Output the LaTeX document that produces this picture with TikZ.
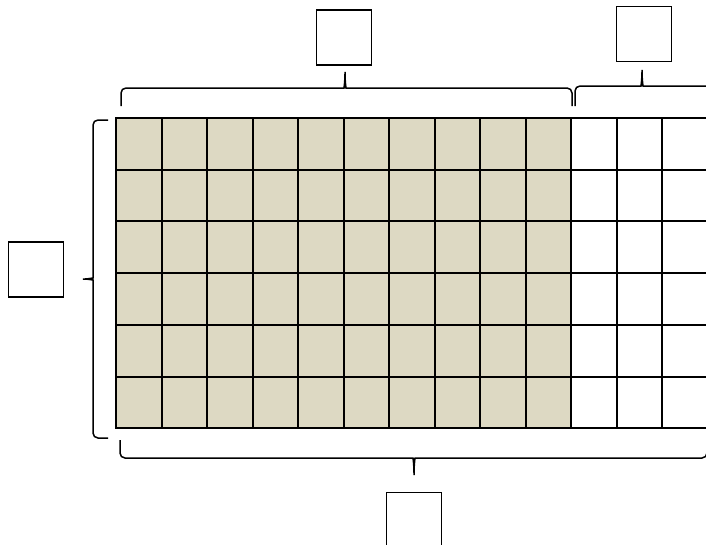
\documentclass[tikz,border=0pt]{standalone}
\usepackage{tikz}
\usetikzlibrary{positioning}
\definecolor{cellfill}{RGB}{221,217,195}

\begin{document}
\begin{tikzpicture}[x=1pt, y=-1pt,
    cell/.style={draw, line width=2pt, minimum width=45.5pt, minimum height=51.7pt, inner sep=0pt, outer sep=0pt, anchor=north west},
    tag/.style={draw, line width=1.6pt, minimum size=55pt, inner sep=0pt},
    bracket/.style={line width=1.5pt, rounded corners=5pt}
]
\useasboundingbox (0,0) rectangle (706,544);
\clip (0,0) rectangle (706,544);

% Grid: shaded part
\foreach \r in {0,...,5}
  \foreach \c in {0,...,9}
    \node[cell, fill=cellfill] (cell-\r-\c) at ({116+45.5*\c},{118+51.7*\r}) {};

% Grid: blank part (last column runs past the edge)
\foreach \r in {0,...,5}
  \foreach \c in {10,11}
    \node[cell] (cell-\r-\c) at ({116+45.5*\c},{118+51.7*\r}) {};
\foreach \r in {0,...,5}
  \node[cell, minimum width=60pt] (cell-\r-12) at ({116+45.5*12},{118+51.7*\r}) {};

% Empty label boxes
\node[tag] (top)   at (344,37.5) {};
\node[tag] (extra) at (644,34) {};
\node[tag] (rows)  at (36,269.5) {};
\node[tag] (total) at (414,520) {};

% Braces
\draw[bracket] (121,106) -- (121,88) -- (339,88) .. controls (344,88) and (345,81) .. (345,69)
  .. controls (345,81) and (346,88) .. (351,88) -- (572,88) -- (572,106);
\draw[bracket] (575,106) -- (575,86) -- (636,86) .. controls (641,86) and (642,79) .. (642,67)
  .. controls (642,79) and (643,86) .. (648,86) -- (712,86) -- (712,106);
\draw[bracket] (108,120) -- (93,120) -- (93,273) .. controls (93,278) and (87,279) .. (80,279)
  .. controls (87,279) and (93,280) .. (93,285) -- (93,438) -- (108,438);
\draw[bracket] (120,440) -- (120,458) -- (408,458) .. controls (413,458) and (414,465) .. (414,478)
  .. controls (414,465) and (415,458) .. (420,458) -- (707,458) -- (707,440);

\end{tikzpicture}
\end{document}
